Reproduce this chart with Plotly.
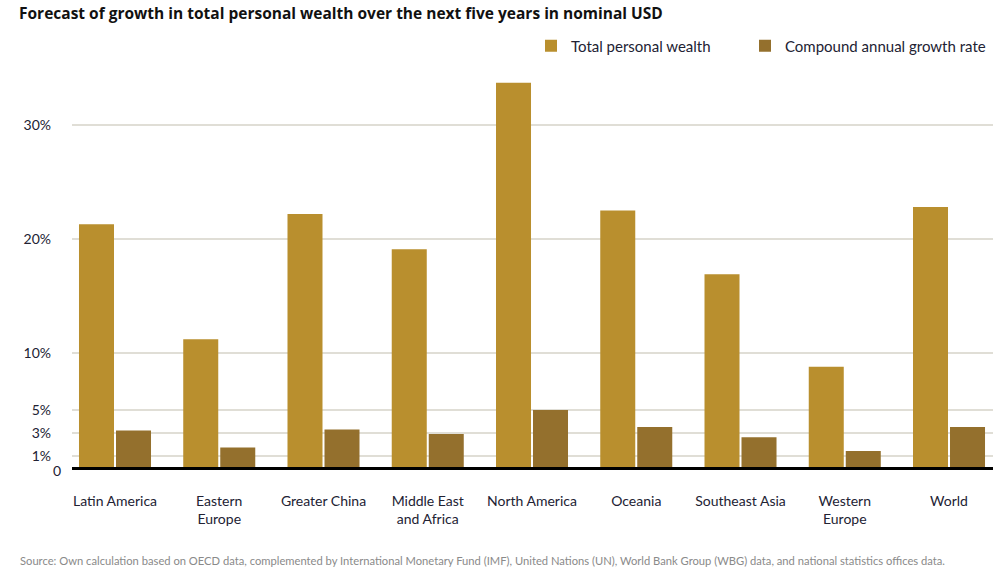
import plotly.graph_objects as go

categories = ["Latin America", "Eastern<br>Europe", "Greater China", "Middle East<br>and Africa",
              "North America", "Oceania", "Southeast Asia", "Western<br>Europe", "World"]
total_personal_wealth = [21.3, 11.2, 22.2, 19.1, 33.7, 22.5, 16.9, 8.8, 22.8]
compound_annual_growth = [3.2, 1.7, 3.3, 2.9, 5.0, 3.5, 2.6, 1.4, 3.5]
tick_vals = [1, 3, 5, 10, 20, 30]
tick_text = ["1%", "3%", "5%", "10%", "20%", "30%"]

FONT = "Lato"
TXT = "#222233"

fig = go.Figure()
fig.add_trace(go.Bar(x=categories, y=total_personal_wealth, name="Total personal wealth",
                     marker=dict(color="#b98f2e", line=dict(width=0)), legend="legend"))
fig.add_trace(go.Bar(x=categories, y=compound_annual_growth, name="Compound annual growth rate",
                     marker=dict(color="#94702d", line=dict(width=0)), legend="legend2"))

W, H = 1006, 588
L, R, T, B = 72, 13, 70, 121
pw = W - L - R
ph = H - T - B


def px(x):
    return (x - L) / pw


def py(y):
    return (H - B - y) / ph


leg_common = dict(orientation="h", xanchor="left", yanchor="middle",
                  font=dict(family=FONT, size=15, color=TXT),
                  bgcolor="rgba(0,0,0,0)", itemclick=False, itemdoubleclick=False)

fig.update_layout(
    width=W, height=H,
    margin=dict(l=L, r=R, t=T, b=B),
    paper_bgcolor="white", plot_bgcolor="white",
    barmode="group", bargap=0.29, bargroupgap=0.054,
    font=dict(family=FONT, size=14, color=TXT),
    showlegend=True,
    legend=dict(x=px(531), y=py(46), **leg_common),
    legend2=dict(x=px(745), y=py(46), **leg_common),
    xaxis=dict(type="category", range=[-0.4125, 8.422], showgrid=False,
               showline=True, linecolor="#000000", linewidth=2.5,
               ticks="", ticklabelstandoff=19,
               tickfont=dict(family=FONT, size=14, color=TXT)),
    yaxis=dict(range=[0, ph / 11.4], tickvals=tick_vals, ticktext=tick_text,
               showgrid=True, gridcolor="#e0ded6", gridwidth=1.5,
               zeroline=False, showline=False, ticks="", ticklabelstandoff=20,
               tickfont=dict(family=FONT, size=14, color=TXT)),
    annotations=[
        dict(text="<b>Forecast of growth in total personal wealth over the next five years in nominal USD</b>",
             xref="paper", yref="paper", x=px(17), y=py(13),
             xanchor="left", yanchor="middle", showarrow=False,
             font=dict(family="Open Sans", size=15.5, color="#111111")),
        dict(text="0", xref="paper", yref="paper", x=px(63), y=py(470),
             xanchor="right", yanchor="middle", showarrow=False,
             font=dict(family=FONT, size=14, color=TXT)),
        dict(text="Source: Own calculation based on OECD data, complemented by International Monetary Fund (IMF), United Nations (UN), World Bank Group (WBG) data, and national statistics offices data.",
             xref="paper", yref="paper", x=px(18), y=py(560),
             xanchor="left", yanchor="middle", showarrow=False,
             font=dict(family=FONT, size=11.2, color="#8a8a8a")),
    ],
)

fig.write_html("out.html", config={"displayModeBar": False},
               post_script="document.body.style.margin='0';document.body.style.overflow='hidden';")
